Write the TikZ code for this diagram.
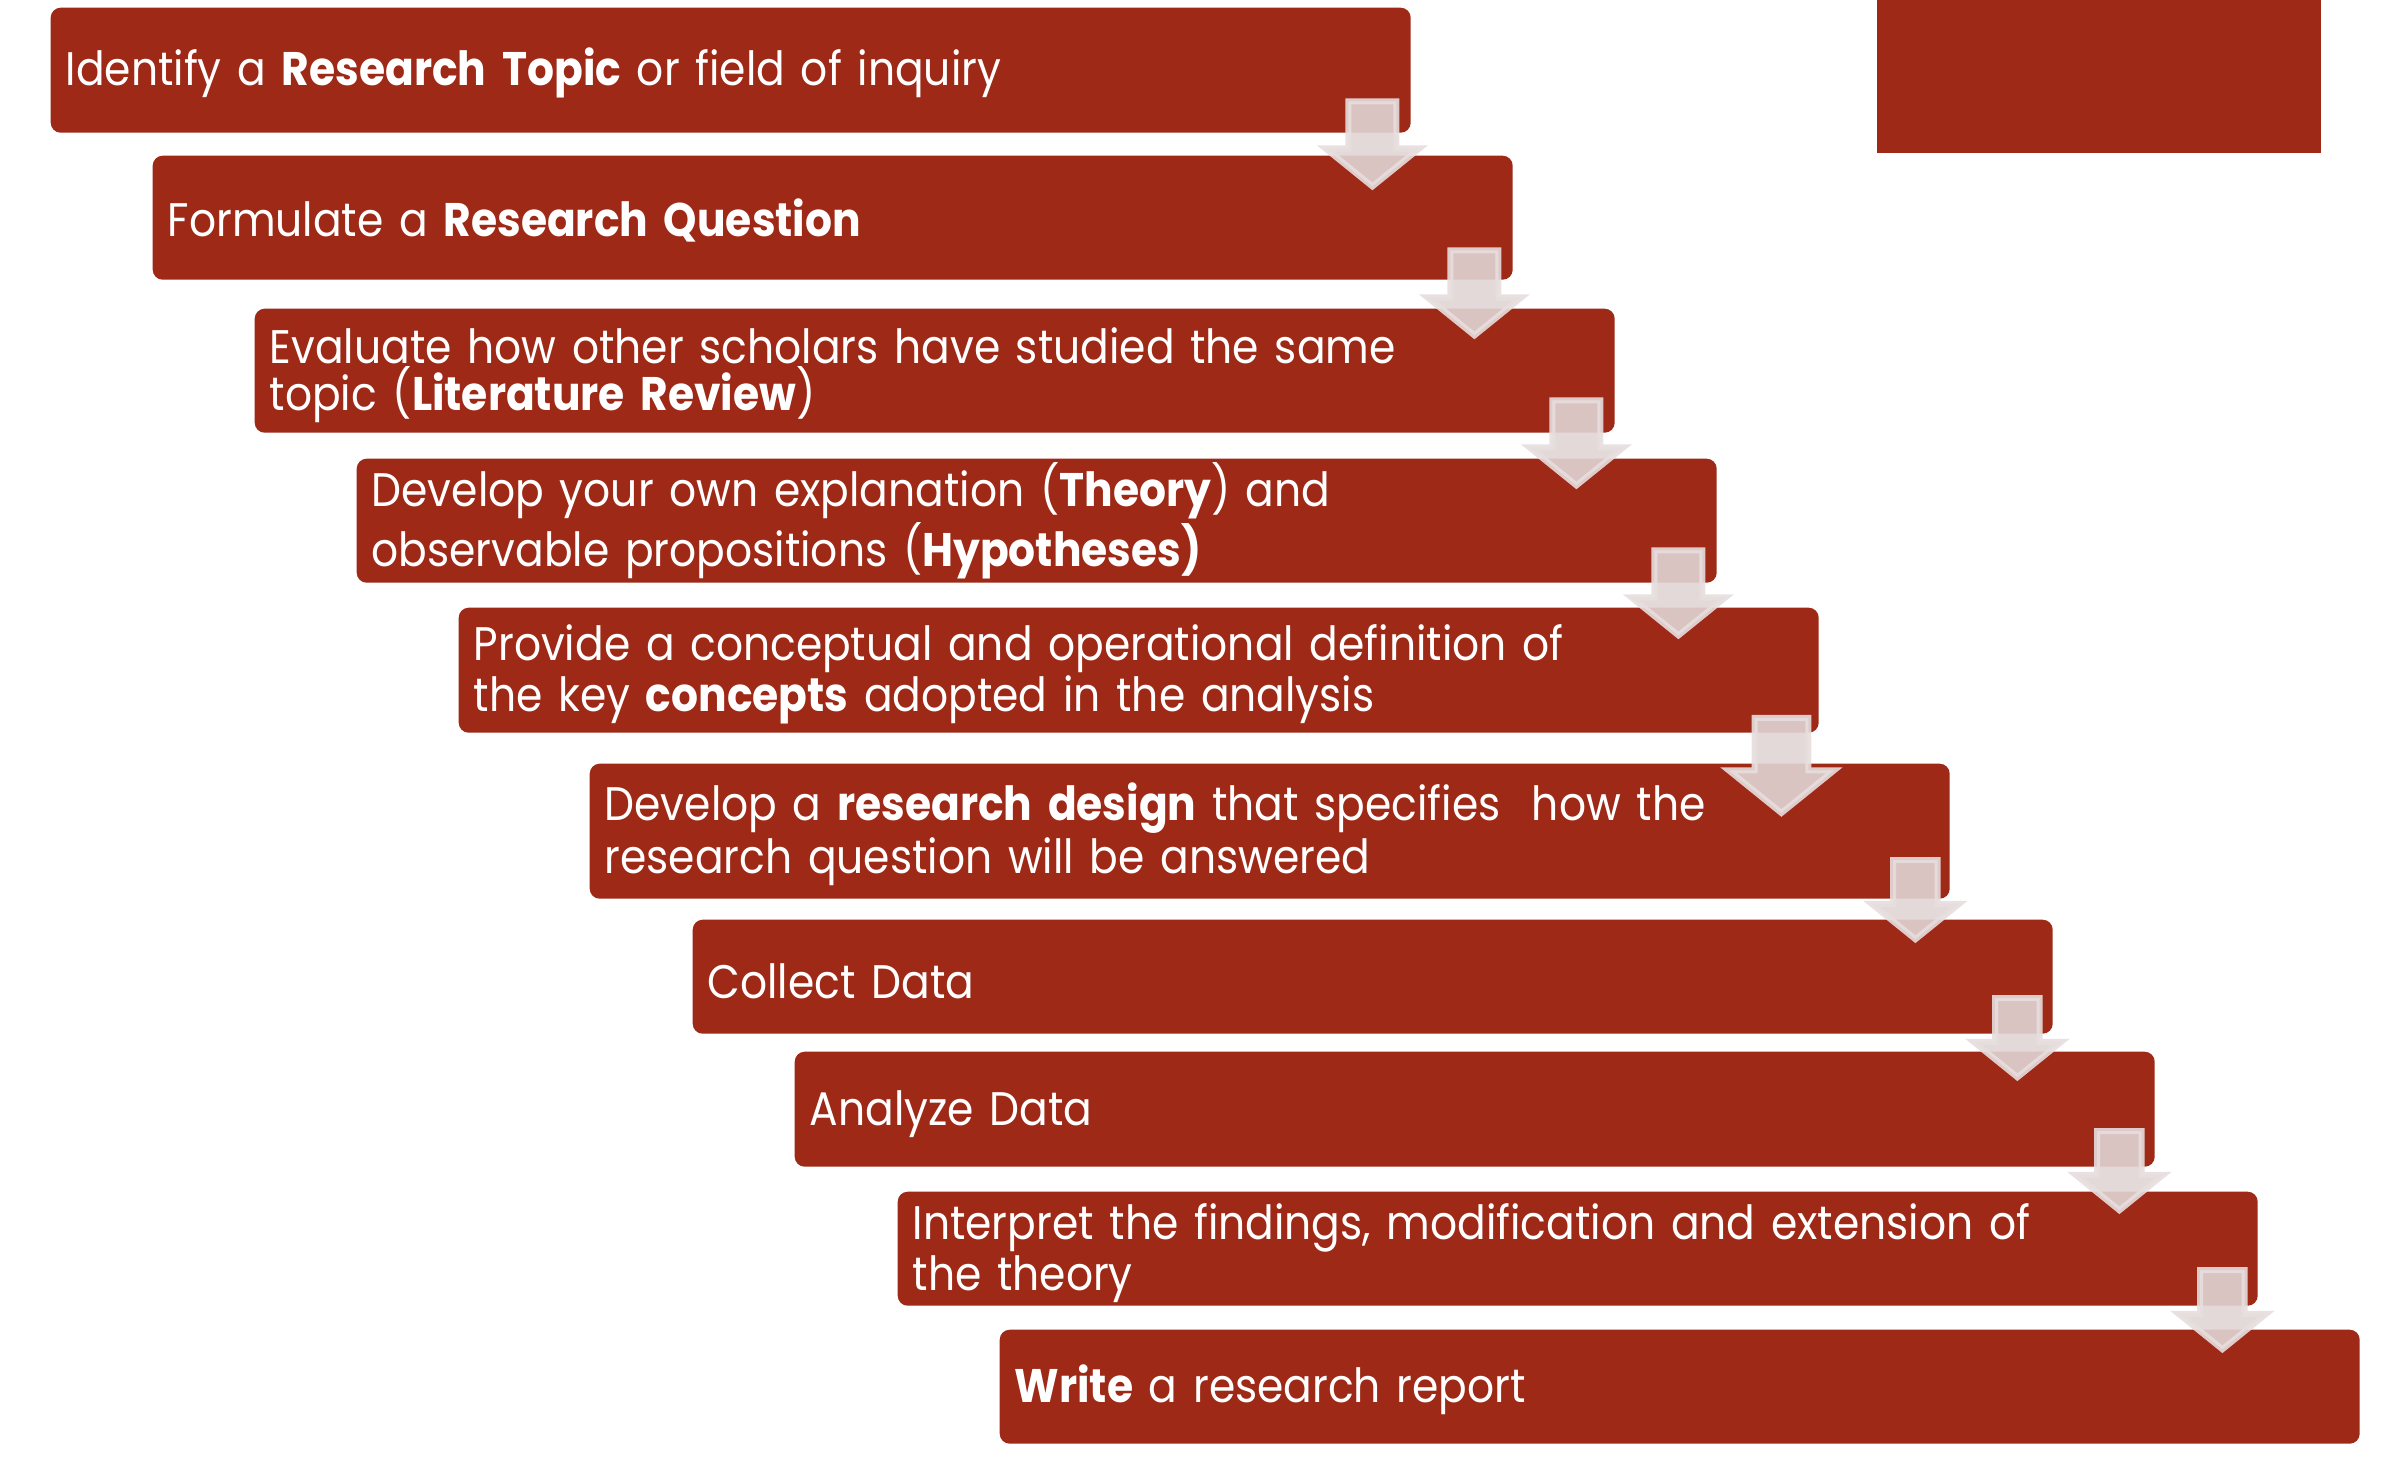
\documentclass[tikz,border=0pt]{standalone}
\usepackage{fontspec}
\setmainfont{Poppins}[FakeStretch=0.9]
\usetikzlibrary{calc}
\definecolor{stepred}{RGB}{157,41,22}
\definecolor{arrowfill}{RGB}{224,213,213}
\definecolor{arrowline}{RGB}{231,222,222}
\begin{document}
\begin{tikzpicture}[
  stepbox/.style={fill=stepred, rounded corners=0.1cm, anchor=north west, text=white,
    align=left, text width=13.3cm, inner xsep=0.15cm, inner ysep=0pt, text height=0.44cm,
    font=\fontsize{13.4}{13.4}\selectfont},
  downarrow/.style={fill=arrowfill, draw=arrowline, line width=0.06cm,
    fill opacity=0.9, draw opacity=0.9}]
\useasboundingbox (0,0) rectangle (23.86,-14.58);
\fill[stepred] (18.77,0) rectangle (23.21,-1.53);
\node[stepbox, minimum height=1.25cm] (s1) at (0.50,-0.07) {Identify a \textbf{Research Topic} or field of inquiry};
\node[stepbox, minimum height=1.24cm] (s2) at (1.52,-1.55) {Formulate a \textbf{Research Question}};
\node[stepbox, minimum height=1.24cm] (s3) at (2.54,-3.08) {Evaluate how other scholars have studied the same\\topic (\textbf{Literature Review})};
\node[stepbox, minimum height=1.24cm] (s4) at (3.56,-4.58) {Develop your own explanation (\textbf{Theory}) and\\observable propositions (\textbf{Hypotheses)}};
\node[stepbox, minimum height=1.25cm] (s5) at (4.58,-6.07) {Provide a conceptual and operational definition of\\the key \textbf{concepts} adopted in the analysis};
\node[stepbox, minimum height=1.35cm] (s6) at (5.89,-7.63) {Develop a \textbf{research design} that specifies\ \ how the\\research question will be answered};
\node[stepbox, minimum height=1.14cm] (s7) at (6.92,-9.19) {Collect Data};
\node[stepbox, minimum height=1.15cm] (s8) at (7.94,-10.51) {Analyze Data};
\node[stepbox, minimum height=1.14cm] (s9) at (8.97,-11.91) {Interpret the findings, modification and extension of\\the theory};
\node[stepbox, minimum height=1.14cm] (s10) at (9.99,-13.29) {\textbf{Write} a research report};
% block arrows hanging from the lower right of each step
\foreach \a/\sx/\sy/\sc in {s1/-0.39/0.35/1, s2/-0.39/0.33/1, s3/-0.39/0.36/1, s4/-0.39/0.36/1,
    s5/-0.38/0.19/1.12, s6/-0.35/0.42/0.93, s7/-0.36/0.39/0.93, s8/-0.36/0.39/0.93, s9/-0.36/0.39/0.93} {
  \begin{scope}[shift={($(\a.south east)+(\sx,\sy)$)}, scale=\sc]
    \draw[downarrow] (-0.24,-0.03) -- (0.24,-0.03) -- (0.24,-0.50) -- (0.47,-0.50)
      -- (0,-0.88) -- (-0.47,-0.50) -- (-0.24,-0.50) -- cycle;
  \end{scope}
}
\end{tikzpicture}
\end{document}
